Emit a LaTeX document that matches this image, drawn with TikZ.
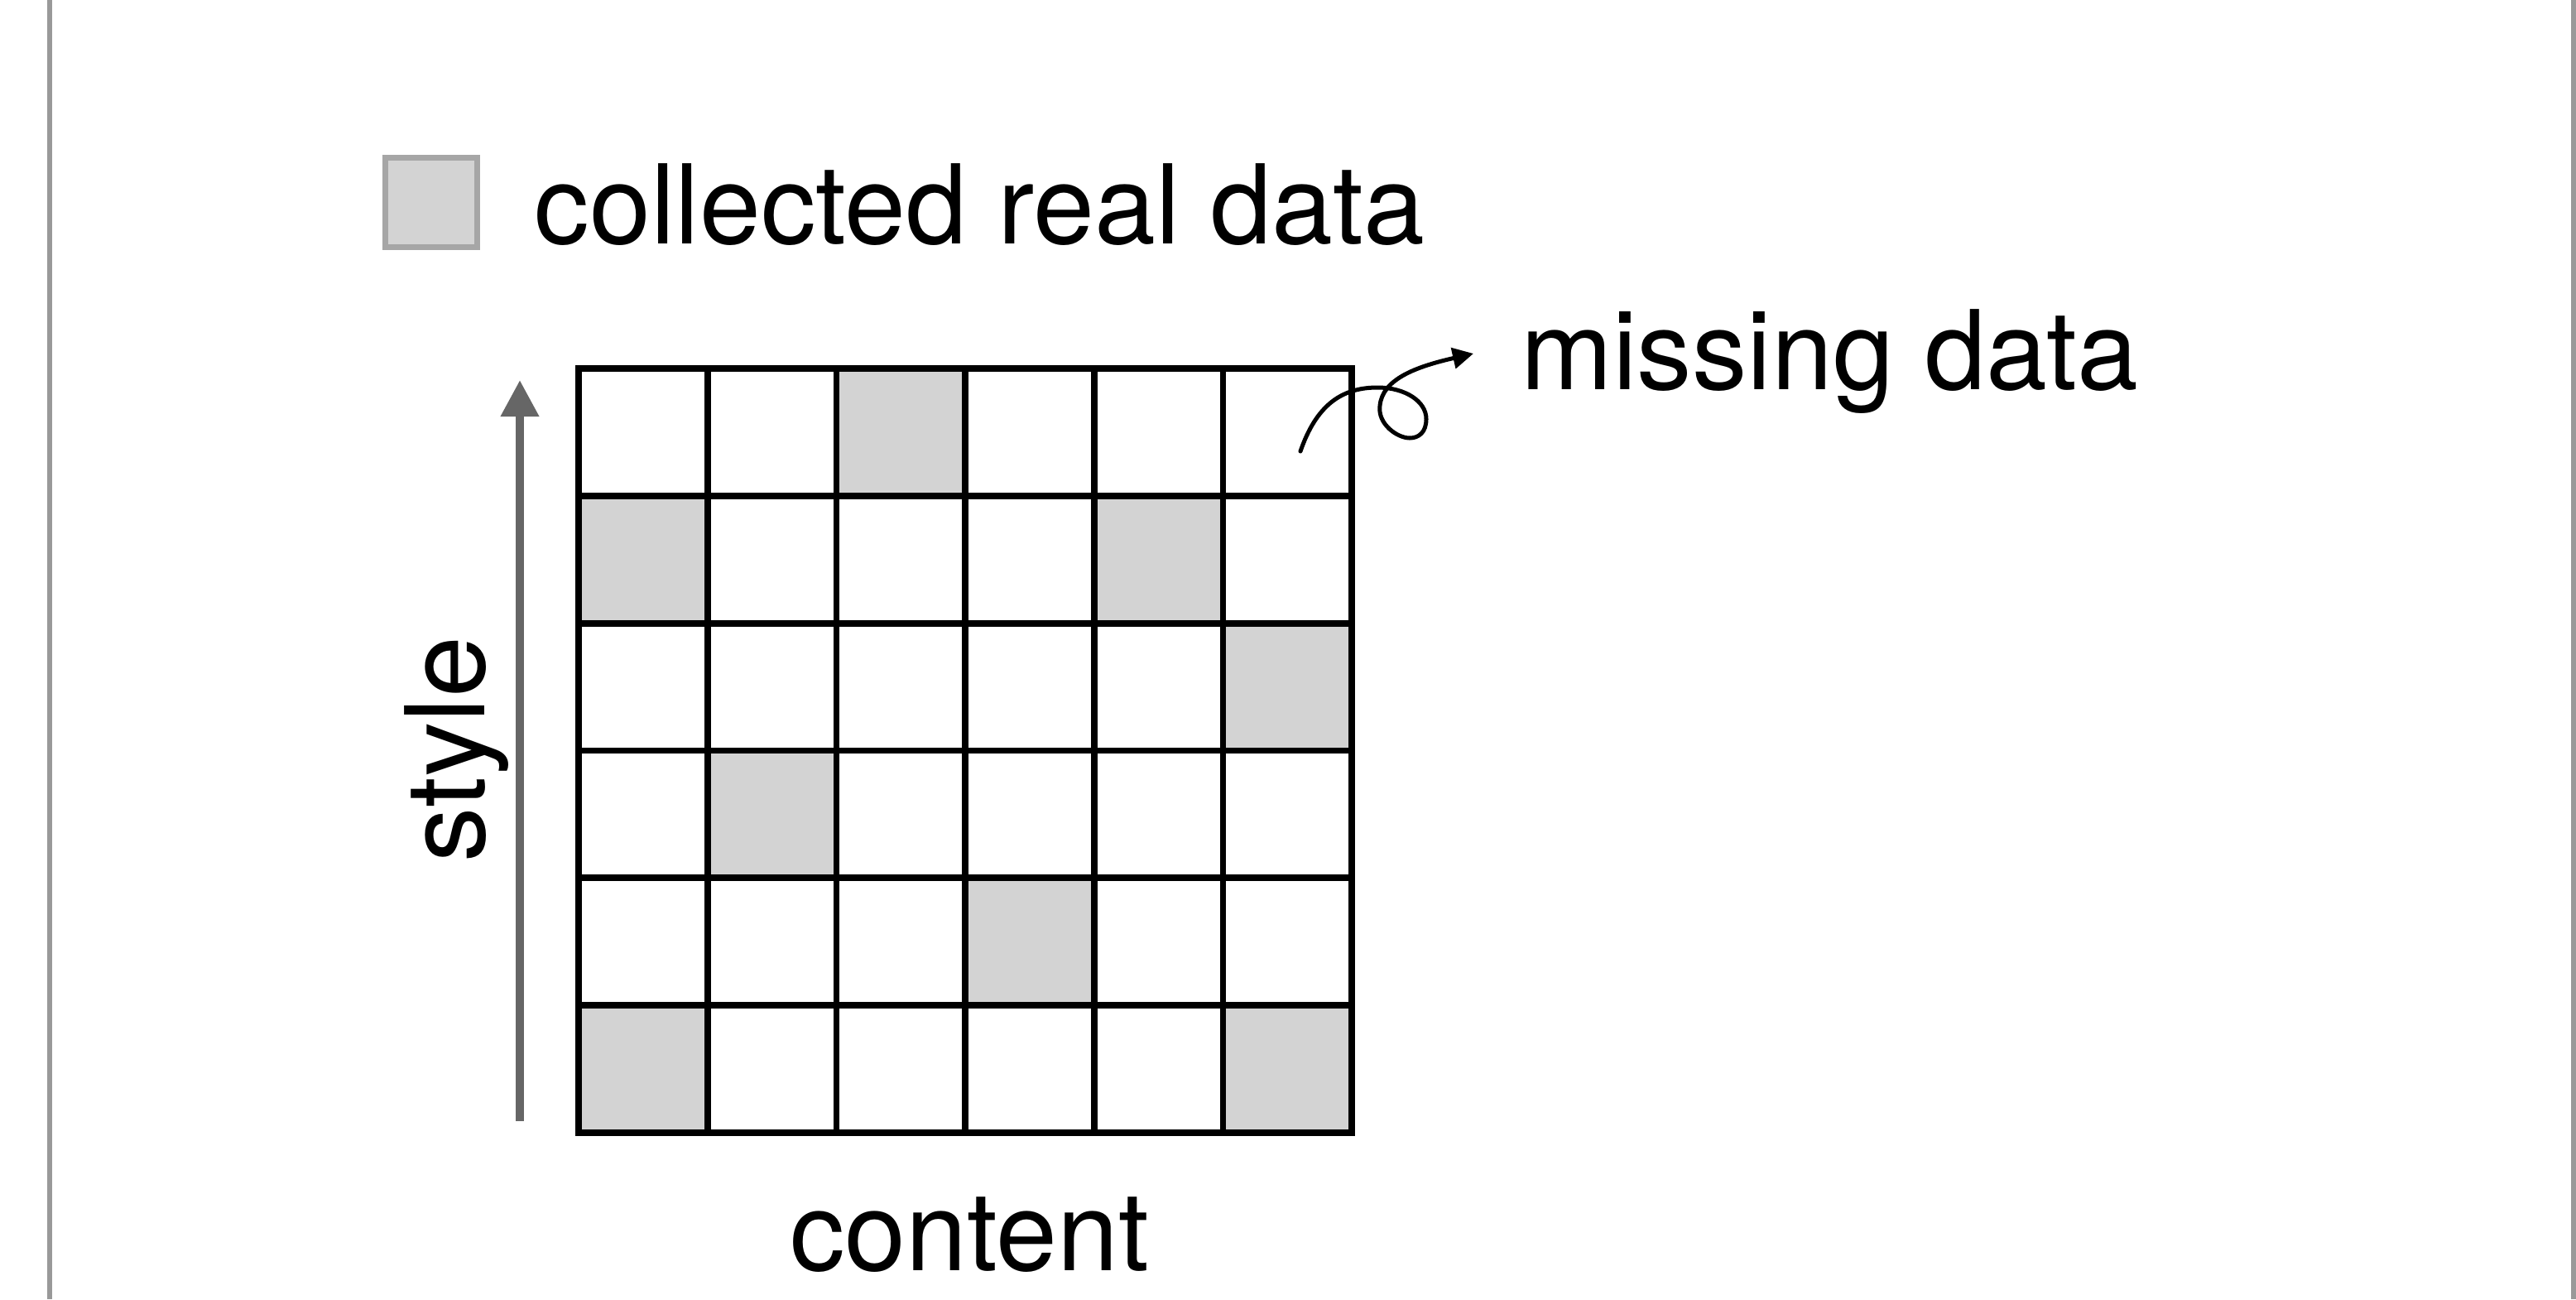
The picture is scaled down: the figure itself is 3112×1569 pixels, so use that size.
\documentclass[tikz,border=0pt]{standalone}
\usepackage{fontspec}
\setmainfont{TeX Gyre Heros}
\usepackage{tikz}
\usetikzlibrary{calc}
\usetikzlibrary{arrows.meta}

\definecolor{realgray}{HTML}{D3D3D3}
\definecolor{keyedge}{HTML}{A6A6A6}
\definecolor{axisgray}{HTML}{666666}
\definecolor{framegray}{HTML}{999999}

\begin{document}
\begin{tikzpicture}[x=0.01cm, y=-0.01cm,
    cell/.style={rectangle, draw=black, line width=0.077cm, minimum width=1.557cm, minimum height=1.538cm, inner sep=0pt},
    filled/.style={rectangle, fill=realgray, minimum width=1.557cm, minimum height=1.538cm, inner sep=0pt},
    keybox/.style={rectangle, draw=keyedge, fill=realgray, line width=0.07cm, minimum width=1.11cm, minimum height=1.08cm, inner sep=0pt},
    txt/.style={font=\fontsize{37.8}{45}\selectfont, inner sep=0pt},
    axis/.style={draw=axisgray, line width=0.1cm, -{Triangle[length=0.44cm, width=0.44cm]}},
    curly/.style={draw=black, line width=0.05cm, line cap=round, -{Triangle[length=0.25cm, width=0.25cm]}},
    frame/.style={draw=framegray, line width=0.06cm}]
            \useasboundingbox (0,0) rectangle (3112,1569);
            \draw[frame] (60,0) -- (60,1569);
            \draw[frame] (3109,0) -- (3109,1569);

            % legend
            \node[keybox] (key) at (521,244.5) {};
            \node[txt, anchor=base west] (keytext) at (645,294) {collected real data};

            % grid of styles x contents
            \coordinate (O) at (699,445);
            \foreach \r/\c in {0/2, 1/0, 1/4, 2/5, 3/1, 4/3, 5/0, 5/5}
            {
                \node[filled] (g-\r-\c) at ($(O) + (\c*155.7+77.85, \r*153.8+76.9)$) {};
            }
            \foreach \r in {0,...,5}
            {
                \foreach \c in {0,...,5}
                {
                    \node[cell] (c-\r-\c) at ($(O) + (\c*155.7+77.85, \r*153.8+76.9)$) {};
                }
            }

            % axes
            \coordinate (s0) at (628,1354);
            \coordinate (s1) at (628,459);
            \draw[axis] (s0) -- (s1);
            \node[txt, rotate=90, anchor=base] (stylelab) at (585,905) {style};
            \node[txt, anchor=base] (contentlab) at (1171,1534) {content};

            % missing data pointer
            \node[txt, anchor=base west] (misslab) at (1837,470) {missing data};
            \coordinate (m0) at (1571,545);
            \coordinate (m1) at (1780,427);
            \draw[curly] (m0) .. controls (1590,490) and (1620,468) .. (1664,468)
                .. controls (1698,468) and (1723,485) .. (1723,506)
                .. controls (1723,522) and (1714,529) .. (1703,529)
                .. controls (1688,529) and (1664,512) .. (1667,490)
                .. controls (1670,458) and (1710,443) .. (m1);
        \end{tikzpicture}
\end{document}
